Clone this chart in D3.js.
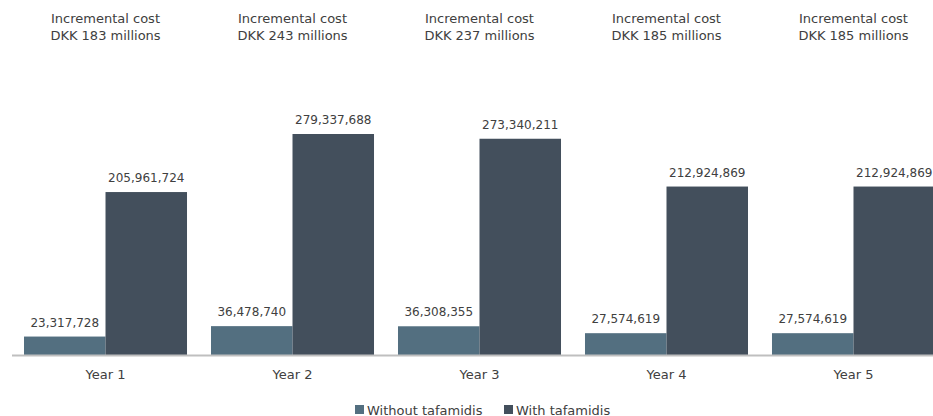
<!DOCTYPE html>
<html>
<head>
<meta charset="utf-8">
<script src="https://cdn.jsdelivr.net/npm/d3@7"></script>
<style>
  body { margin: 0; background: #fff; }
  text { font-family: "DejaVu Sans", sans-serif; fill: #404040; }
</style>
</head>
<body>
<svg id="chart" width="933" height="416"></svg>
<script>
const years = ["Year 1", "Year 2", "Year 3", "Year 4", "Year 5"];
const series = ["Without tafamidis", "With tafamidis"];
const withoutTafamidis = [23317728, 36478740, 36308355, 27574619, 27574619];
const withTafamidis = [205961724, 279337688, 273340211, 212924869, 212924869];
const incrementalCost = [183, 243, 237, 185, 185];

const colors = ["#536f80", "#434f5c"];

const svg = d3.select("#chart");
const baseline = 355;

const rows = years.map((y, i) => ({ year: y, values: [withoutTafamidis[i], withTafamidis[i]], inc: incrementalCost[i] }));

// --- Scales
const x = d3.scaleBand()
  .domain(years)
  .range([12, 947])
  .paddingInner(0.1283)
  .paddingOuter(0.0642);

const xs = d3.scaleBand()
  .domain(series)
  .range([0, x.bandwidth()]);

const y = d3.scaleLinear()
  .domain([0, d3.max(withTafamidis)])
  .range([baseline, 134]);

// --- Bars
const groups = svg.selectAll(".group")
  .data(rows)
  .enter()
  .append("g")
  .attr("class", "group")
  .attr("transform", d => `translate(${x(d.year)},0)`);

groups.selectAll("rect")
  .data(d => d.values.map((v, j) => ({ key: series[j], v, j })))
  .enter()
  .append("rect")
  .attr("x", d => xs(d.key))
  .attr("width", xs.bandwidth())
  .attr("y", d => y(d.v))
  .attr("height", d => baseline - y(d.v))
  .attr("fill", d => colors[d.j]);

// --- Value labels
groups.selectAll(".val")
  .data(d => d.values.map((v, j) => ({ key: series[j], v })))
  .enter()
  .append("text")
  .attr("class", "val")
  .attr("x", d => xs(d.key) + xs.bandwidth() / 2)
  .attr("y", d => y(d.v) - 10)
  .attr("text-anchor", "middle")
  .style("font-size", "12px")
  .text(d => d3.format(",")(d.v));

// --- Incremental cost headers
const head = groups.append("text")
  .attr("text-anchor", "middle")
  .style("font-size", "13px");
head.append("tspan")
  .attr("x", x.bandwidth() / 2)
  .attr("y", 23)
  .text("Incremental cost");
head.append("tspan")
  .attr("x", x.bandwidth() / 2)
  .attr("y", 39.5)
  .text(d => `DKK ${d.inc} millions`);

// --- Axis
const axis = svg.append("g")
  .attr("transform", `translate(0,${baseline})`)
  .call(d3.axisBottom(x).tickSize(0).tickPadding(15));
axis.select(".domain")
  .attr("d", `M12,0.5H933`)
  .attr("stroke", "#bfbfbf")
  .attr("stroke-width", 2);
axis.selectAll(".tick text")
  .style("font-size", "13px")
  .style("font-family", "'DejaVu Sans', sans-serif")
  .attr("fill", "#404040");

// --- Legend
const legendX = [355, 504];
const legend = svg.selectAll(".legend")
  .data(series)
  .enter()
  .append("g")
  .attr("class", "legend")
  .attr("transform", (d, i) => `translate(${legendX[i]},405)`);
legend.append("rect")
  .attr("width", 9)
  .attr("height", 9)
  .attr("y", 0)
  .attr("fill", (d, i) => colors[i]);
legend.append("text")
  .attr("x", 12)
  .attr("y", 9.5)
  .style("font-size", "13px")
  .text(d => d);
</script>
</body>
</html>
